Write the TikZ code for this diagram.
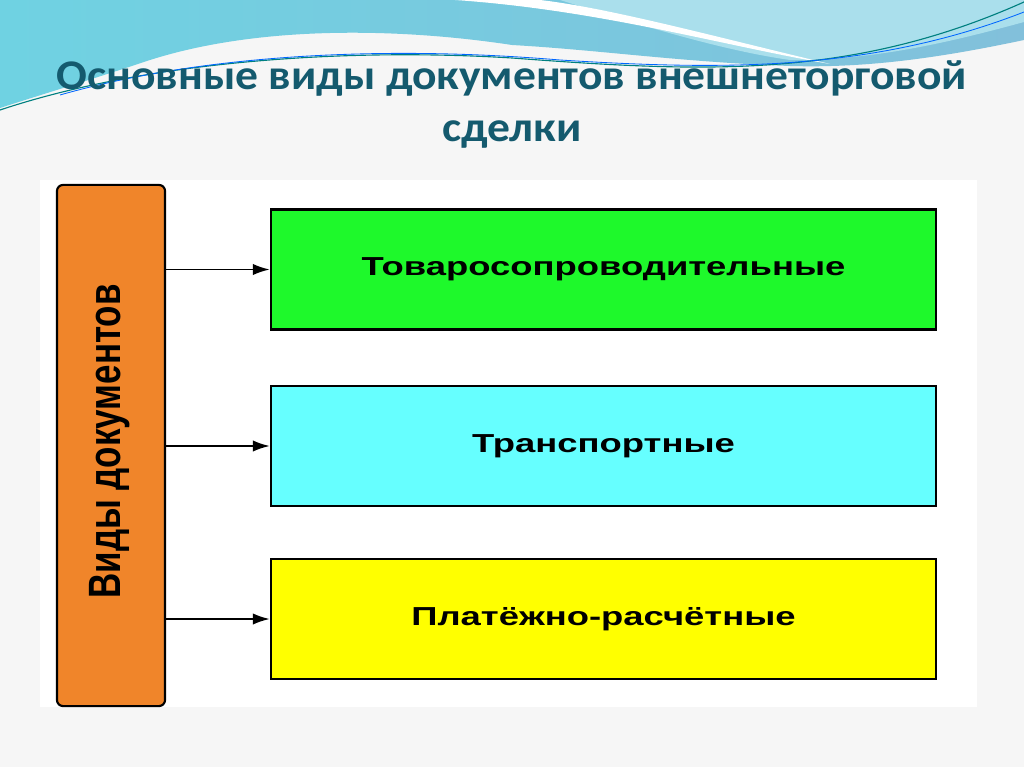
\documentclass[tikz,border=0pt]{standalone}
\usepackage{fontspec}
\setmainfont{Liberation Sans}
\newfontfamily\titlefont{Carlito}
\usepackage{xcolor}
\usepackage{tikz}
\usetikzlibrary{arrows.meta}
\definecolor{pagegray}{HTML}{F6F6F6}
\definecolor{wavedark}{HTML}{82C0DB}
\definecolor{wavecyan}{HTML}{6FD2E2}
\definecolor{wavelight}{HTML}{AADFEC}
\definecolor{titleteal}{HTML}{145A6E}
\definecolor{vidorange}{HTML}{F0852A}
\definecolor{tovgreen}{HTML}{1EF92B}
\definecolor{trcyan}{HTML}{66FFFF}
\definecolor{plyellow}{HTML}{FFFF00}

\tikzset{
  docbox/.style={draw=black, line width=1.5pt, minimum width=16.625cm, minimum height=3cm, inner sep=0pt},
  doctext/.style={font=\bfseries\fontsize{18.5}{20}\selectfont},
  titletext/.style={titleteal, anchor=base, font=\titlefont\bfseries\fontsize{30}{36}\selectfont},
  arr/.style={-{Latex[length=12pt,width=8pt]}, line width=1.4pt}
}

\begin{document}
\begin{tikzpicture}[x=0.025cm, y=-0.025cm]

% Page background and top waves
\fill[pagegray] (0,0) rectangle (1024,767);
\useasboundingbox (0,0) rectangle (1024,767);
\shade[left color=wavecyan, right color=wavedark] (0,0) -- (1024,0) -- (1024,40)
  .. controls (930,60) and (860,68) .. (790,66)
  .. controls (680,62) and (600,50) .. (512,45)
  .. controls (400,28) and (260,25) .. (150,60)
  .. controls (90,80) and (40,95) .. (0,108) -- cycle;
\fill[wavelight] (560,0) -- (1024,0) -- (1024,22)
  .. controls (940,45) and (870,60) .. (790,60)
  .. controls (720,50) and (640,25) .. cycle;
\fill[white] (455,0) .. controls (600,10) and (720,45) .. (830,64)
  .. controls (720,38) and (610,8) .. (540,0) -- cycle;
\draw[teal, line width=0.8pt] (0,110) .. controls (150,60) and (350,48) .. (512,58)
  .. controls (700,72) and (850,80) .. (1024,2);
\draw[blue!60!cyan, line width=0.6pt] (60,95) .. controls (200,55) and (380,45) .. (560,60)
  .. controls (720,70) and (870,72) .. (1024,12);
\fill[white] (40,180) rectangle (977,707);

% Title
\node[titletext] (title1) at (512,90) {\scalebox{1.08}[1]{Основные виды документов внешнеторговой}};
\node[titletext] (title2) at (512,142) {\scalebox{1.08}[1]{сделки}};

% Left block
\node[draw=black, line width=1.5pt, fill=vidorange, rounded corners=0.15cm,
  minimum width=2.7cm, minimum height=13.025cm] (vid) at (111,445.5) {};
\node[rotate=90, font=\bfseries\fontsize{23}{25}\selectfont] (vidtext) at (110,441.5)
  {\scalebox{1.08}[1.4]{Виды документов}};

% Document boxes
\node[docbox, fill=tovgreen] (tov) at (603.5,269.5) {};
\node[docbox, fill=trcyan] (tr) at (603.5,446) {};
\node[docbox, fill=plyellow] (pl) at (603.5,619) {};
\node[doctext] (tovtext) at (tov.center) {\scalebox{1.4}[1]{Товаросопроводительные}};
\node[doctext] (trtext) at (tr.center) {\scalebox{1.4}[1]{Транспортные}};
\node[doctext] (pltext) at (pl.center) {\scalebox{1.4}[1]{Платёжно-расчётные}};

% Arrows
\foreach \b in {tov,tr,pl} {
  \draw[arr] (vid.east |- \b.west) -- (\b.west);
}

\end{tikzpicture}
\end{document}
